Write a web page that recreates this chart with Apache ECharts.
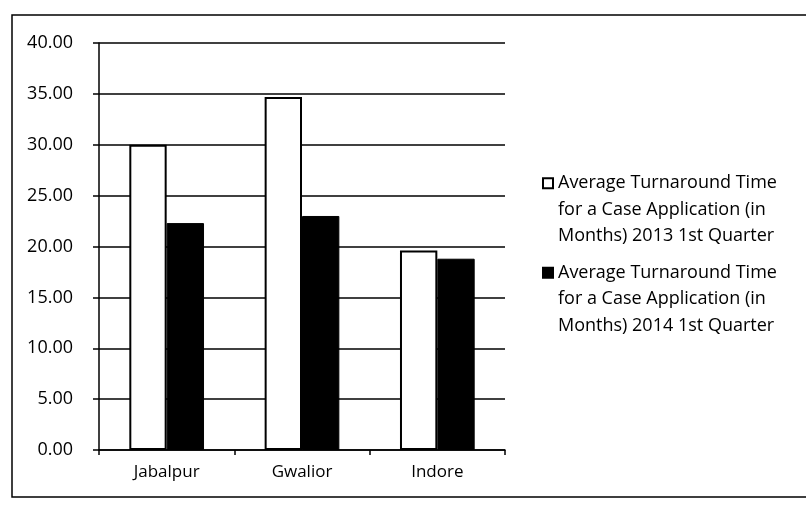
<!DOCTYPE html>
<html>
<head>
<meta charset="utf-8">
<script src="https://cdn.jsdelivr.net/npm/echarts@6/dist/echarts.min.js"></script>
<style>
  html, body { margin: 0; padding: 0; background: #fff; }
  #chart { width: 806px; height: 505px; }
</style>
</head>
<body>
<div id="chart"></div>
<script>
// Courts and their average turnaround times (months)
const categories = ['Jabalpur', 'Gwalior', 'Indore'];
const quarter2013 = [30.0, 34.7, 19.6];
const quarter2014 = [22.3, 23.0, 18.8];
const seriesNames = [
  'Average Turnaround Time\nfor a Case Application (in\nMonths) 2013 1st Quarter',
  'Average Turnaround Time\nfor a Case Application (in\nMonths) 2014 1st Quarter'
];
const yMin = 0, yMax = 40, yStep = 5;

const FONT = 'Open Sans';
const INK = '#000';

const chart = echarts.init(document.getElementById('chart'), null, { renderer: 'canvas' });

chart.setOption({
  backgroundColor: '#fff',
  animation: false,
  graphic: [{
    type: 'rect',
    shape: { x: 12, y: 15, width: 830, height: 482 },
    style: { fill: 'none', stroke: INK, lineWidth: 1.5 },
    silent: true,
    z: -1
  }],
  legend: {
    orient: 'vertical',
    left: 537,
    top: 112,
    itemWidth: 10,
    itemHeight: 10,
    itemGap: -43,
    icon: 'rect',
    selectedMode: false,
    // two leading empty lines keep the swatch level with the first text line
    formatter: name => '\n\n' + name,
    textStyle: {
      fontFamily: FONT,
      fontSize: 18,
      color: INK,
      lineHeight: 26.5
    }
  },
  grid: { left: 99, right: 301, top: 43, bottom: 55, containLabel: false },
  xAxis: {
    type: 'category',
    data: categories,
    boundaryGap: true,
    axisLine: { show: true, lineStyle: { color: INK, width: 1.5 } },
    axisTick: { show: true, length: 5, alignWithLabel: false, lineStyle: { color: INK, width: 1.5 } },
    axisLabel: { fontFamily: FONT, fontSize: 17, color: INK, margin: 14 },
    splitLine: { show: false }
  },
  yAxis: {
    type: 'value',
    min: yMin,
    max: yMax,
    interval: yStep,
    axisLine: { show: true, lineStyle: { color: INK, width: 1.5 } },
    axisTick: { show: true, length: 6, lineStyle: { color: INK, width: 1.5 } },
    axisLabel: {
      fontFamily: FONT,
      fontSize: 18,
      color: INK,
      margin: 26,
      formatter: v => v.toFixed(2)
    },
    splitLine: { show: true, lineStyle: { color: INK, width: 1.5 } }
  },
  series: [
    {
      name: seriesNames[0],
      type: 'bar',
      data: quarter2013,
      barWidth: '27.6%',
      barGap: '0%',
      itemStyle: { color: '#fff', borderColor: INK, borderWidth: 2 }
    },
    {
      name: seriesNames[1],
      type: 'bar',
      data: quarter2014,
      barWidth: '27.6%',
      barGap: '0%',
      itemStyle: { color: '#000', borderColor: INK, borderWidth: 1 }
    }
  ]
});
</script>
</body>
</html>
